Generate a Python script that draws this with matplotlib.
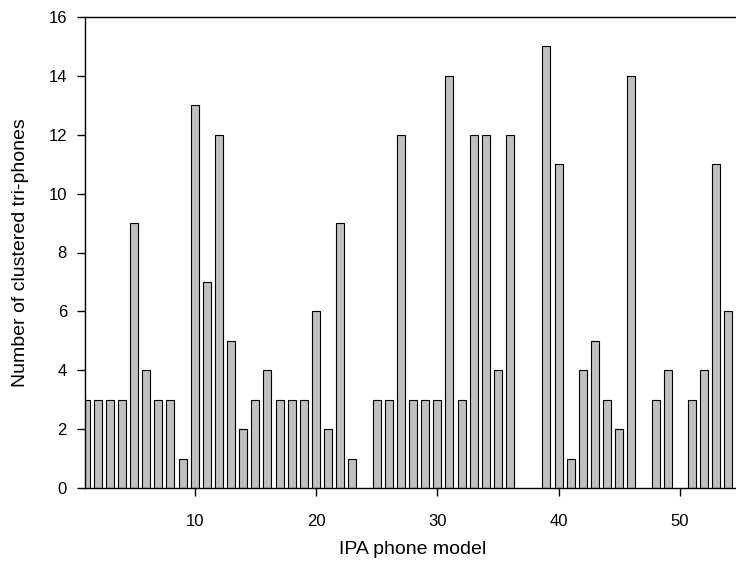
import matplotlib
matplotlib.use("Agg")
import matplotlib.pyplot as plt

plt.rcParams['font.family'] = ['Liberation Sans', 'DejaVu Sans']

# numero do modelo de fone IPA e quantidade de tri-fones agrupados
phones = list(range(1, 55))
counts = [3, 3, 3, 3, 9, 4, 3, 3, 1, 13,
          7, 12, 5, 2, 3, 4, 3, 3, 3, 6,
          2, 9, 1, 0, 3, 3, 12, 3, 3, 3,
          14, 3, 12, 12, 4, 12, 0, 0, 15, 11,
          1, 4, 5, 3, 2, 14, 0, 3, 4, 0,
          3, 4, 11, 6]
x_ticks = [10, 20, 30, 40, 50]
y_ticks = [0, 2, 4, 6, 8, 10, 12, 14, 16]

fig = plt.figure(figsize=(7.36, 5.63), dpi=100)
W, H = 736, 563
ax = fig.add_axes([85 / W, 75 / H, 655.4 / W, 471 / H])

# zeros are not drawn as bars in the original
xs = [p for p, c in zip(phones, counts) if c > 0]
ys = [c for c in counts if c > 0]
ax.bar(xs, ys, width=0.66, color='#c0c0c0', edgecolor='black', linewidth=0.8)

ax.set_xlim(0.95, 55)
ax.set_ylim(0, 16)
ax.set_xticks(x_ticks)
ax.set_yticks(y_ticks)
ax.tick_params(direction='out', length=6, width=1, labelsize=12)
ax.tick_params(axis='x', pad=13)
ax.tick_params(axis='y', pad=7)
for s in ax.spines.values():
    s.set_linewidth(1)

ax.set_xlabel("IPA phone model", fontsize=14, labelpad=8)
ax.set_ylabel("Number of clustered tri-phones", fontsize=14, labelpad=14)

fig.savefig("out.png", dpi=100)
